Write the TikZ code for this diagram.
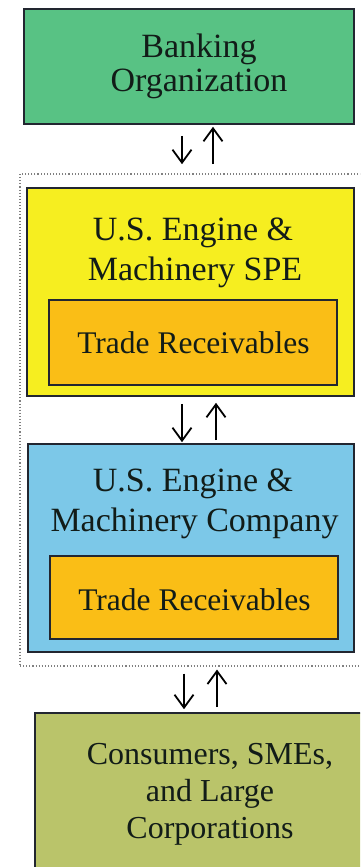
\documentclass[tikz,border=0pt]{standalone}
\usepackage{fontspec}
\setmainfont{Liberation Serif}
\usetikzlibrary{arrows.meta}
\definecolor{bankgreen}{RGB}{88,194,132}
\definecolor{speyellow}{RGB}{246,238,32}
\definecolor{recorange}{RGB}{250,190,22}
\definecolor{coblue}{RGB}{124,200,232}
\definecolor{custolive}{RGB}{186,196,106}
\definecolor{edge}{RGB}{34,38,48}
\definecolor{txt}{RGB}{18,28,24}
\definecolor{dotgray}{RGB}{128,128,128}
\tikzset{
  box/.style={draw=edge, line width=1.6pt, rectangle, inner sep=0pt},
  line/.style={anchor=base, inner sep=0pt, text=txt, font=\fontsize{34}{35}\selectfont},
  recline/.style={line, font=\fontsize{31.5}{33}\selectfont},
  custline/.style={line, font=\fontsize{32}{34}\selectfont},
  arr/.style={draw=black, line width=1.8pt, -{Straight Barb[length=13pt,width=19pt]}},
  frame/.style={draw=dotgray, dotted, line width=1.1pt, rectangle, inner sep=0pt}
}
\begin{document}
\begin{tikzpicture}[x=1pt,y=-1pt]
\useasboundingbox (0,0) rectangle (360,867);
\clip (0,0) rectangle (360,867);
\fill[white] (0,0) rectangle (360,867);
% boxes
\node[box, fill=bankgreen, minimum width=330pt, minimum height=115pt] (bank) at (189,66.5) {};
\node[frame, minimum width=360pt, minimum height=492pt] (grp) at (200,420) {};
\node[box, fill=speyellow, minimum width=327pt, minimum height=208pt] (spe) at (190.5,292) {};
\node[box, fill=recorange, minimum width=288pt, minimum height=85pt] (rec1) at (193,342.5) {};
\node[box, fill=coblue, minimum width=326pt, minimum height=208pt] (co) at (191,548) {};
\node[box, fill=recorange, minimum width=288pt, minimum height=83pt] (rec2) at (194,597.5) {};
\node[box, fill=custolive, minimum width=345pt, minimum height=187pt] (cust) at (207.5,806.5) {};
% texts
\node[line] (bankA) at (199,57.5) {Banking};
\node[line] (bankB) at (199,92) {Organization};
\node[line] (speA) at (193,240) {U.S. Engine \&};
\node[line] (speB) at (195,280) {Machinery SPE};
\node[recline] (rec1t) at (193.5,353) {Trade Receivables};
\node[line] (coA) at (193,491) {U.S. Engine \&};
\node[line] (coB) at (194.5,531) {Machinery Company};
\node[recline] (rec2t) at (194.5,610) {Trade Receivables};
\node[custline] (custA) at (210,764) {Consumers, SMEs,};
\node[custline] (custB) at (210,801) {and Large};
\node[custline] (custC) at (210,838) {Corporations};
% arrows
\draw[arr, shorten <=11pt, shorten >=23pt] (bank.south -| 182,0) -- (spe.north -| 182,0);
\draw[arr, shorten <=23pt, shorten >=2pt] (spe.north -| 213,0) -- (bank.south -| 213,0);
\draw[arr, shorten <=7pt, shorten >=1pt] (spe.south -| 182,0) -- (co.north -| 182,0);
\draw[arr, shorten <=3pt, shorten >=6pt] (co.north -| 216,0) -- (spe.south -| 216,0);
\draw[arr, shorten <=7pt, shorten >=3pt] (grp.south -| 184,0) -- (cust.north -| 184,0);
\draw[arr, shorten <=5pt, shorten >=3pt] (cust.north -| 217,0) -- (grp.south -| 217,0);
\end{tikzpicture}
\end{document}
